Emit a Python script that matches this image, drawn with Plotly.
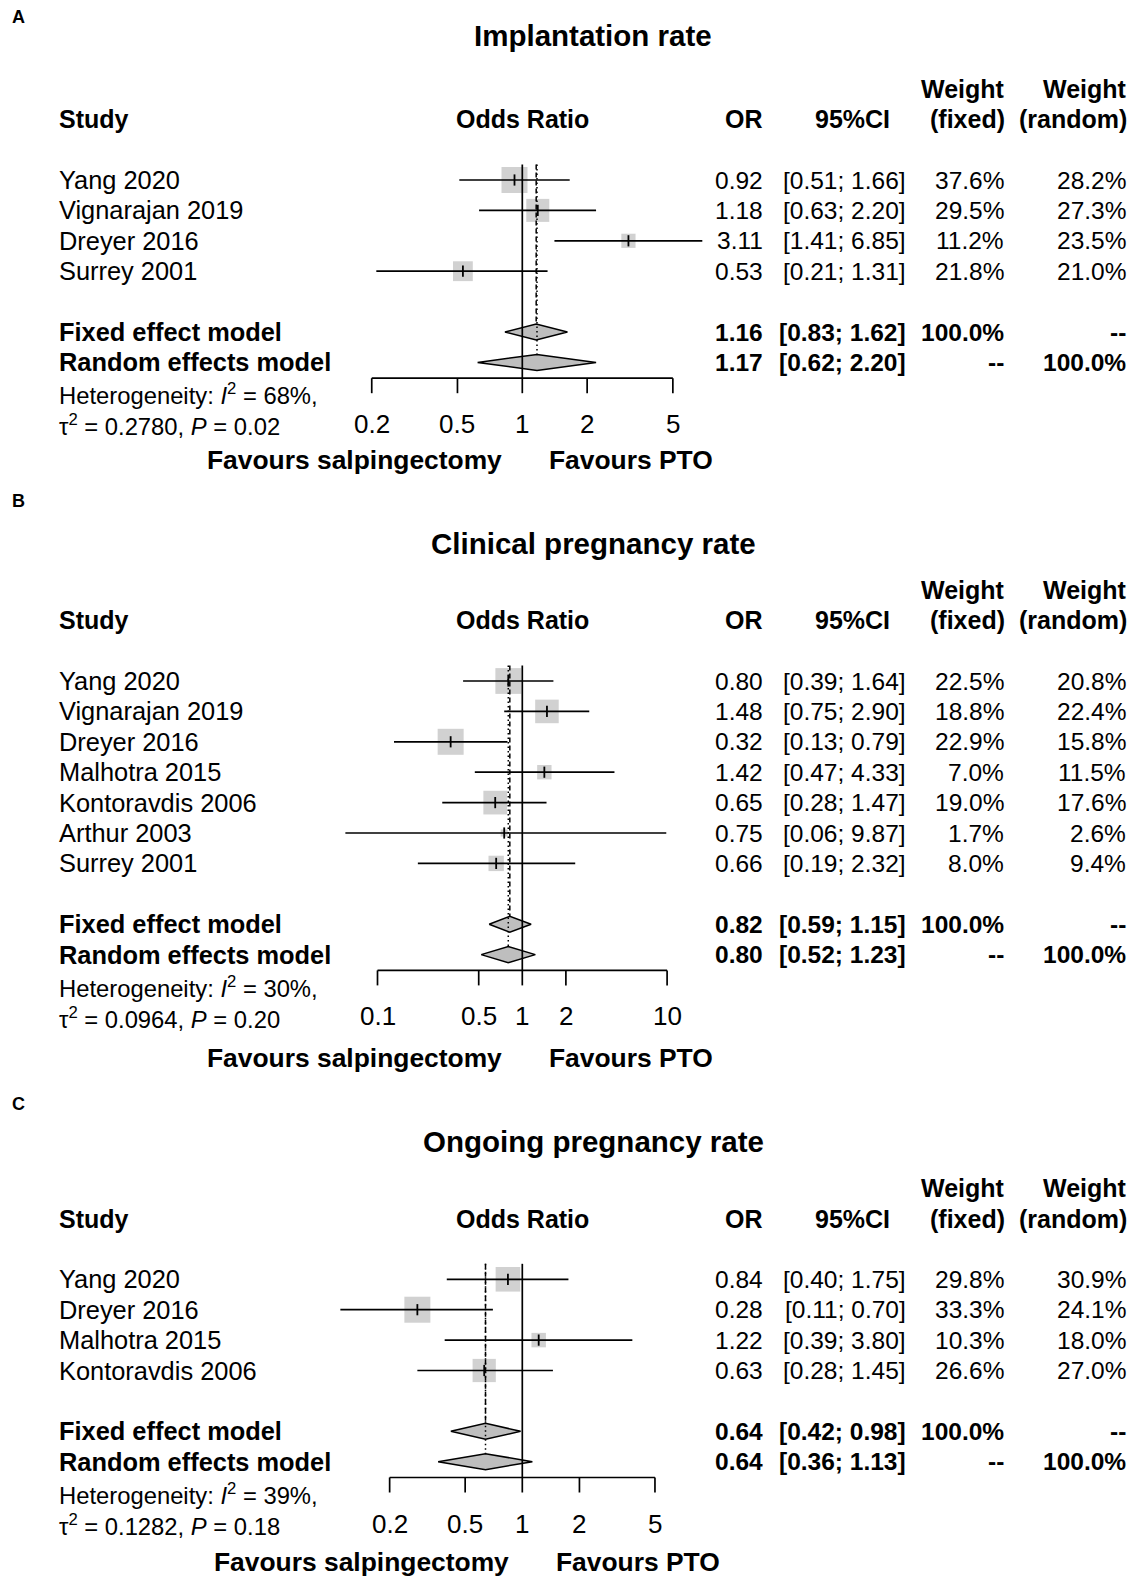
import numpy as np
import plotly.graph_objects as go

# ---------------- data ----------------
titles = ["Implantation rate", "Clinical pregnancy rate", "Ongoing pregnancy rate"]
panel_labels = ["A", "B", "C"]

studies_A = ["Yang 2020", "Vignarajan 2019", "Dreyer 2016", "Surrey 2001"]
or_A = [0.92, 1.18, 3.11, 0.53]
lo_A = [0.51, 0.63, 1.41, 0.21]
hi_A = [1.66, 2.20, 6.85, 1.31]
wfix_A = [37.6, 29.5, 11.2, 21.8]
wran_A = [28.2, 27.3, 23.5, 21.0]
fixed_A = [1.16, 0.83, 1.62]
random_A = [1.17, 0.62, 2.20]
het_A = [68, 0.2780, 0.02]
ticks_A = [0.2, 0.5, 1, 2, 5]

studies_B = ["Yang 2020", "Vignarajan 2019", "Dreyer 2016", "Malhotra 2015",
             "Kontoravdis 2006", "Arthur 2003", "Surrey 2001"]
or_B = [0.80, 1.48, 0.32, 1.42, 0.65, 0.75, 0.66]
lo_B = [0.39, 0.75, 0.13, 0.47, 0.28, 0.06, 0.19]
hi_B = [1.64, 2.90, 0.79, 4.33, 1.47, 9.87, 2.32]
wfix_B = [22.5, 18.8, 22.9, 7.0, 19.0, 1.7, 8.0]
wran_B = [20.8, 22.4, 15.8, 11.5, 17.6, 2.6, 9.4]
fixed_B = [0.82, 0.59, 1.15]
random_B = [0.80, 0.52, 1.23]
het_B = [30, 0.0964, 0.20]
ticks_B = [0.1, 0.5, 1, 2, 10]

studies_C = ["Yang 2020", "Dreyer 2016", "Malhotra 2015", "Kontoravdis 2006"]
or_C = [0.84, 0.28, 1.22, 0.63]
lo_C = [0.40, 0.11, 0.39, 0.28]
hi_C = [1.75, 0.70, 3.80, 1.45]
wfix_C = [29.8, 33.3, 10.3, 26.6]
wran_C = [30.9, 24.1, 18.0, 27.0]
fixed_C = [0.64, 0.42, 0.98]
random_C = [0.64, 0.36, 1.13]
het_C = [39, 0.1282, 0.18]
ticks_C = [0.2, 0.5, 1, 2, 5]

label_left = "Favours salpingectomy"
label_right = "Favours PTO"

# ---------------- layout geometry (page pixels) ----------------
PW, PH = 1137, 1577
SP = 30.4          # row spacing
FONT = "Liberation Sans, Arial, Helvetica, sans-serif"
GRAY = "#bebebe"

panels = [
    dict(data=(studies_A, or_A, lo_A, hi_A, wfix_A, wran_A, fixed_A, random_A, het_A, ticks_A),
         label_y=17, title_y=35, row0=180.0, one=522.3, ppd=215.4,
         fav_l=502.7, fav_r=547.9, fav_dy=82),
    dict(data=(studies_B, or_B, lo_B, hi_B, wfix_B, wran_B, fixed_B, random_B, het_B, ticks_B),
         label_y=501, title_y=543, row0=681.0, one=522.3, ppd=144.8,
         fav_l=502.7, fav_r=547.9, fav_dy=87.5),
    dict(data=(studies_C, or_C, lo_C, hi_C, wfix_C, wran_C, fixed_C, random_C, het_C, ticks_C),
         label_y=1104, title_y=1141.5, row0=1279.3, one=522.3, ppd=189.8,
         fav_l=509.7, fav_r=555.0, fav_dy=84),
]

X_STUDY, X_OR, X_CI, X_WF, X_WR = 58.3, 764.0, 906.8, 1005.3, 1127.0
X_CI_HEAD, X_WF_HEAD, X_WR_HEAD = 890.7, 1006.0, 1128.0
BODY = 24.5
LEFT = 25.4
LW = 1.7

fig = go.Figure()
annotations = []


def txt(x, y, s, anchor="left", size=BODY, bold=False, xref="paper"):
    if bold:
        s = "<b>" + s + "</b>"
    annotations.append(dict(
        x=x / PW if xref == "paper" else x, y=y, xref=xref, yref="y",
        text=s, showarrow=False, xanchor=anchor, yanchor="middle",
        font=dict(family=FONT, size=size, color="black"), borderpad=0))


def line(xa, xs, ys, width=LW, dash="solid"):
    fig.add_trace(go.Scatter(x=xs, y=ys, xaxis=xa, yaxis="y", mode="lines",
                             line=dict(color="black", width=width, dash=dash),
                             hoverinfo="skip", showlegend=False))


layout_axes = {}
for i, p in enumerate(panels):
    studies, ors, los, his, wf, wr, fx, rn, het, ticks = p["data"]
    xa = "x" if i == 0 else f"x{i+1}"
    key = "xaxis" if i == 0 else f"xaxis{i+1}"
    ax = dict(type="log", domain=[0, 1], visible=False, anchor="y", fixedrange=True,
              range=[(0 - p["one"]) / p["ppd"], (PW - p["one"]) / p["ppd"]])
    if i > 0:
        ax["overlaying"] = "x"
    layout_axes[key] = ax

    n = len(studies)
    rows = [p["row0"] + k * SP for k in range(n)]
    y_fix = p["row0"] + (n + 1) * SP
    y_ran = y_fix + SP
    y_head = p["row0"] - 2 * SP
    y_weight = p["row0"] - 3 * SP
    y_top = p["row0"] - 15.5
    y_axis = y_ran + 15.8
    dh = 8.0

    # squares (area proportional to fixed weight)
    wmax = max(wf)
    sizes = [26.0 * np.sqrt(w / wmax) for w in wf]
    fig.add_trace(go.Scatter(x=ors, y=rows, xaxis=xa, yaxis="y", mode="markers",
                             marker=dict(symbol="square", size=sizes, color=GRAY,
                                         line=dict(width=0)),
                             hoverinfo="skip", showlegend=False))

    # diamonds
    for (est, lo, hi), yy in ((fx, y_fix), (rn, y_ran)):
        fig.add_trace(go.Scatter(x=[lo, est, hi, est, lo], y=[yy, yy - dh, yy, yy + dh, yy],
                                 xaxis=xa, yaxis="y", mode="lines", fill="toself",
                                 fillcolor=GRAY, line=dict(color="black", width=1.5),
                                 hoverinfo="skip", showlegend=False))

    # reference line at 1 and summary lines
    line(xa, [1, 1], [y_top, y_axis], width=LW)
    line(xa, [fx[0], fx[0]], [y_top, y_fix - dh], width=1.5, dash="5px,3px")
    line(xa, [rn[0], rn[0]], [y_top, y_ran - dh], width=1.5, dash="1.5px,3px")

    # CI lines
    for k in range(n):
        line(xa, [los[k], his[k]], [rows[k], rows[k]], width=LW)
    fig.add_trace(go.Scatter(x=ors, y=rows, xaxis=xa, yaxis="y", mode="markers",
                             marker=dict(symbol="line-ns", size=8,
                                         line=dict(color="black", width=1.8)),
                             hoverinfo="skip", showlegend=False))

    # x axis
    line(xa, [ticks[0], ticks[-1]], [y_axis, y_axis], width=LW)
    for t in ticks:
        line(xa, [t, t], [y_axis, y_axis + 15], width=LW)
        txt(np.log10(t), y_axis + 46, f"{t:g}", anchor="center", xref=xa, size=26)

    # favours labels
    txt(p["fav_l"], y_axis + p["fav_dy"], label_left, anchor="right", size=26.4, bold=True)
    txt(p["fav_r"], y_axis + p["fav_dy"], label_right, anchor="left", size=26.4, bold=True)

    # panel label and title
    txt(18, p["label_y"], panel_labels[i], anchor="center", size=18, bold=True)
    txt(593, p["title_y"], titles[i], anchor="center", size=29.5, bold=True)

    # headers
    txt(X_STUDY, y_head, "Study", bold=True, size=25)
    txt(p["one"], y_head, "Odds Ratio", anchor="center", bold=True, size=25)
    txt(X_OR, y_head, "OR", anchor="right", bold=True, size=25)
    txt(X_CI_HEAD, y_head, "95%CI", anchor="right", bold=True, size=25)
    txt(X_WF_HEAD, y_weight, "Weight", anchor="right", bold=True, size=25)
    txt(X_WF_HEAD, y_head, "(fixed)", anchor="right", bold=True, size=25)
    txt(X_WR_HEAD, y_weight, "Weight", anchor="right", bold=True, size=25)
    txt(X_WR_HEAD, y_head, "(random)", anchor="right", bold=True, size=25)

    # study rows
    for k in range(n):
        txt(X_STUDY, rows[k], studies[k], size=LEFT)
        txt(X_OR, rows[k], f"{ors[k]:.2f}", anchor="right")
        txt(X_CI, rows[k], f"[{los[k]:.2f}; {his[k]:.2f}]", anchor="right")
        txt(X_WF, rows[k], f"{wf[k]:.1f}%", anchor="right")
        txt(X_WR, rows[k], f"{wr[k]:.1f}%", anchor="right")

    # summary rows
    txt(X_STUDY, y_fix, "Fixed effect model", bold=True, size=LEFT)
    txt(X_OR, y_fix, f"{fx[0]:.2f}", anchor="right", bold=True)
    txt(X_CI, y_fix, f"[{fx[1]:.2f}; {fx[2]:.2f}]", anchor="right", bold=True)
    txt(X_WF, y_fix, "100.0%", anchor="right", bold=True)
    txt(X_WR, y_fix, "--", anchor="right", bold=True)
    txt(X_STUDY, y_ran, "Random effects model", bold=True, size=LEFT)
    txt(X_OR, y_ran, f"{rn[0]:.2f}", anchor="right", bold=True)
    txt(X_CI, y_ran, f"[{rn[1]:.2f}; {rn[2]:.2f}]", anchor="right", bold=True)
    txt(X_WF, y_ran, "--", anchor="right", bold=True)
    txt(X_WR, y_ran, "100.0%", anchor="right", bold=True)

    # heterogeneity
    txt(X_STUDY, y_ran + 32, f"Heterogeneity: <i>I</i><sup>2</sup> = {het[0]}%,", size=23.8)
    txt(X_STUDY, y_ran + 63, f"τ<sup>2</sup> = {het[1]:.4f}, <i>P</i> = {het[2]:.2f}", size=23.8)

fig.update_layout(
    width=PW, height=PH, margin=dict(l=0, r=0, t=0, b=0), autosize=False,
    paper_bgcolor="white", plot_bgcolor="white", showlegend=False,
    font=dict(family=FONT, color="black"),
    yaxis=dict(range=[PH, 0], domain=[0, 1], visible=False, fixedrange=True),
    annotations=annotations,
    **layout_axes,
)
# remove the default page margin so the figure fills the window exactly
fig.write_html("out.html",
               config={"displayModeBar": False, "staticPlot": True},
               post_script="document.body.style.margin='0px';document.body.style.overflow='hidden';")
